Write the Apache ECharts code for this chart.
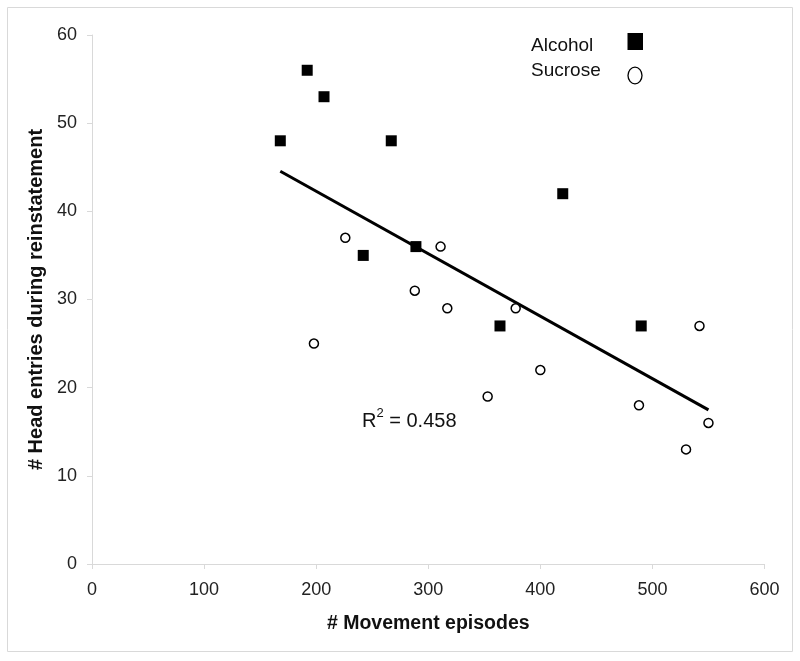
<!DOCTYPE html>
<html><head><meta charset="utf-8">
<script src="https://cdn.jsdelivr.net/npm/echarts@6/dist/echarts.min.js"></script>
<style>html,body{margin:0;padding:0;background:#fff}#c{width:800px;height:661px}</style>
</head><body><div id="c"></div>
<script>
const alcoholX = [168, 192, 207, 267, 242, 289, 364, 420, 490];
const alcoholY = [48, 56, 53, 48, 35, 36, 27, 42, 27];
const sucroseX = [198, 226, 288, 311, 317, 378, 400, 353, 488, 530, 542, 550];
const sucroseY = [25, 37, 31, 36, 29, 29, 22, 19, 18, 13, 27, 16];
const xTicks = [0, 100, 200, 300, 400, 500, 600];
const yTicks = [0, 10, 20, 30, 40, 50, 60];
const r2Text = '0.458';

const allX = alcoholX.concat(sucroseX), allY = alcoholY.concat(sucroseY);
const n = allX.length;
const mx = allX.reduce((a,b)=>a+b,0)/n, my = allY.reduce((a,b)=>a+b,0)/n;
let sxy=0, sxx=0;
for (let i=0;i<n;i++){ sxy+=(allX[i]-mx)*(allY[i]-my); sxx+=(allX[i]-mx)**2; }
const slope = sxy/sxx, icpt = my - slope*mx;
const xmin = Math.min(...allX), xmax = Math.max(...allX);
const trend = [[xmin, icpt+slope*xmin],[xmax, icpt+slope*xmax]];

const chart = echarts.init(document.getElementById('c'));
const font = 'Liberation Sans, Arial, sans-serif';
chart.setOption({
  animation:false,
  grid:{left:92, right:35.5, top:35, bottom:97},
  xAxis:{type:'value', min:xTicks[0], max:xTicks[xTicks.length-1], interval:100,
    axisLine:{show:true, lineStyle:{color:'#d9d9d9', width:1}},
    axisTick:{show:true, length:5, lineStyle:{color:'#d9d9d9'}},
    splitLine:{show:false},
    axisLabel:{fontFamily:font, fontSize:18, color:'#222', margin:17},
    name:'# Movement episodes', nameLocation:'middle', nameGap:50,
    nameTextStyle:{fontFamily:font, fontWeight:'bold', fontSize:19.5, color:'#111'}},
  yAxis:{type:'value', min:yTicks[0], max:yTicks[yTicks.length-1], interval:10,
    axisLine:{show:true, lineStyle:{color:'#d9d9d9', width:1}},
    axisTick:{show:true, length:5, lineStyle:{color:'#d9d9d9'}},
    splitLine:{show:false},
    axisLabel:{fontFamily:font, fontSize:18, color:'#222', margin:15},
    name:'# Head entries during reinstatement', nameLocation:'middle', nameGap:33,
    nameTextStyle:{fontFamily:font, fontWeight:'bold', fontSize:20, color:'#111'}},
  series:[
    {name:'Alcohol', type:'scatter', symbol:'rect', symbolSize:11,
     itemStyle:{color:'#000', opacity:1}, data: alcoholX.map((x,i)=>[x, alcoholY[i]]), z:3},
    {name:'Sucrose', type:'scatter', symbol:'circle', symbolSize:9,
     itemStyle:{color:'#fff', borderColor:'#000', borderWidth:1.5, opacity:1}, data: sucroseX.map((x,i)=>[x, sucroseY[i]]), z:3},
    {name:'trend', type:'line', data:trend, symbol:'none', lineStyle:{color:'#000', width:3}, z:2}
  ],
  graphic:[
    {type:'rect', shape:{x:7.5, y:7.5, width:785, height:644}, style:{fill:'none', stroke:'#d9d9d9', lineWidth:1}, z:-1},
    {type:'text', left:531, top:36, style:{text:'Alcohol', font:'19px '+font, fill:'#111'}},
    {type:'text', left:531, top:61, style:{text:'Sucrose', font:'19px '+font, fill:'#111'}},
    {type:'rect', shape:{x:627.5, y:33, width:15.5, height:17}, style:{fill:'#000'}},
    {type:'ellipse', shape:{cx:635, cy:75.5, rx:7, ry:8.3}, style:{fill:'#fff', stroke:'#000', lineWidth:1.3}},
    {type:'text', left:362, top:407, style:{text:'{r|R}{s|2}{r| = '+r2Text+'}', rich:{
      r:{fontFamily:font, fontSize:20, fill:'#111', verticalAlign:'bottom', lineHeight:24},
      s:{fontFamily:font, fontSize:13, fill:'#111', verticalAlign:'top', lineHeight:24, padding:[0,0,9,0]}}}}
  ]
});
</script></body></html>
